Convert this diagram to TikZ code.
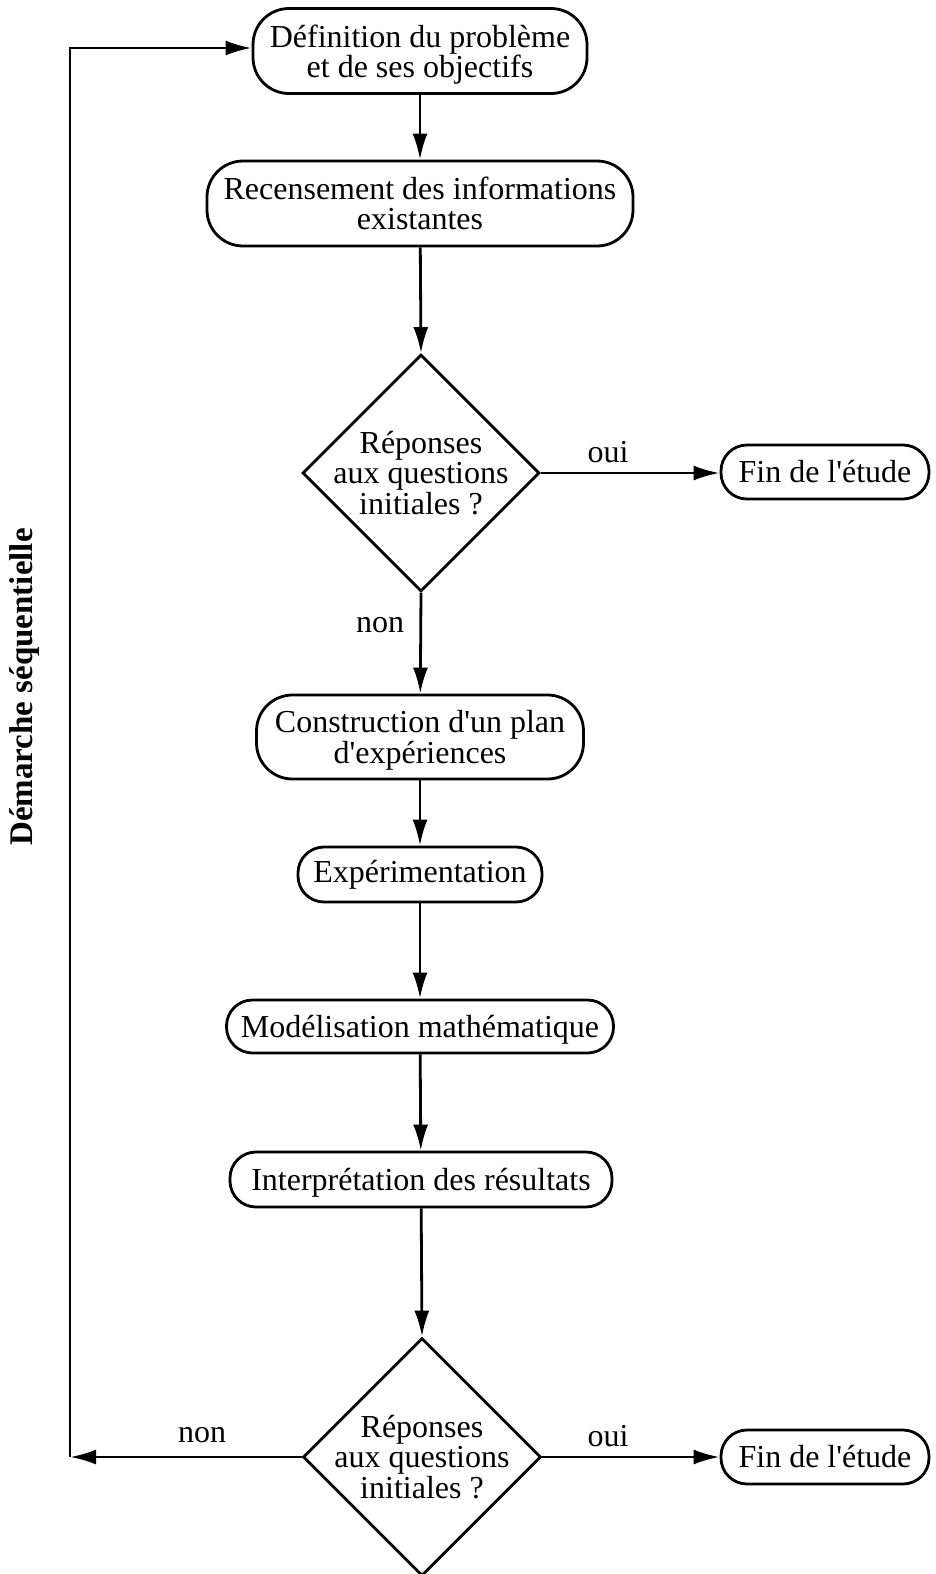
\documentclass[tikz,border=0pt]{standalone}
\usepackage{fontspec}
\setmainfont{Liberation Serif}
\usetikzlibrary{shapes.geometric,arrows.meta}
\begin{document}
\begin{tikzpicture}[x=1pt,y=-1pt,
  txt/.style={font=\fontsize{32}{30.5}\selectfont},
  box/.style={txt,draw,line width=2.8pt,align=center,inner sep=0pt,rounded corners=26pt},
  tallbox/.style={box,rounded corners=36pt},
  decision/.style={draw,line width=2.8pt,diamond,inner sep=0pt,minimum width=#1,minimum height=#1},
  dtext/.style={txt,align=center,inner sep=0pt},
  arr/.style={line width=2.8pt,-{Latex[length=26pt,width=15pt]}}]
\useasboundingbox (0,0) rectangle (935,1574);

\node[tallbox,text depth=0pt,minimum width=334pt,minimum height=85pt] (b1) at (420,51) {Définition du problème\\et de ses objectifs};
\node[tallbox,minimum width=426pt,minimum height=85pt] (b2) at (420,203.5) {Recensement des informations\\existantes};
\node[decision=237pt] (d1) at (421,473) {};
\node[dtext] (d1t) at (421,473) {Réponses\\aux questions\\initiales ?};
\node[box,minimum width=208pt,minimum height=54pt] (f1) at (825,472) {Fin de l\textquotesingle étude};
\node[tallbox,text depth=0pt,minimum width=327pt,minimum height=84pt] (b3) at (420,737) {Construction d\textquotesingle un plan\\d\textquotesingle expériences};
\node[box,minimum width=244pt,minimum height=55pt] (b4) at (420,874.5) {Expérimentation};
\node[box,text depth=0pt,minimum width=387pt,minimum height=53pt] (b5) at (420,1026.5) {Modélisation mathématique};
\node[box,text depth=0pt,minimum width=382pt,minimum height=55pt] (b6) at (421,1179.5) {Interprétation des résultats};
\node[decision=238pt] (d2) at (422,1457) {};
\node[dtext] (d2t) at (422,1457) {Réponses\\aux questions\\initiales ?};
\node[box,minimum width=208pt,minimum height=54pt] (f2) at (825,1457) {Fin de l\textquotesingle étude};

\node[txt] (oui1) at (608,452) {oui};
\node[txt] (non1) at (380,625) {non};
\node[txt] (non2) at (202,1435) {non};
\node[txt] (oui2) at (608,1436) {oui};
\node[font=\fontsize{33}{33}\selectfont\bfseries,rotate=90] (lab) at (25,687) {Démarche séquentielle};

\coordinate (cL) at (70,1457);
\coordinate (cT) at (70,48);

\draw[arr] (b1) -- (b2);
\draw[arr] (b2) -- (d1.north);
\draw[arr] (d1.east) -- (f1.west |- d1.east);
\draw[arr] (d1.south) -- (b3);
\draw[arr] (b3) -- (b4);
\draw[arr] (b4) -- (b5);
\draw[arr] (b5) -- (b6);
\draw[arr] (b6) -- (d2.north);
\draw[arr] (d2.east) -- (f2.west |- d2.east);
\draw[arr] (d2.west) -- (cL);
\draw[arr] (cL) -- (cT) -- (b1.west |- cT);
\end{tikzpicture}
\end{document}
